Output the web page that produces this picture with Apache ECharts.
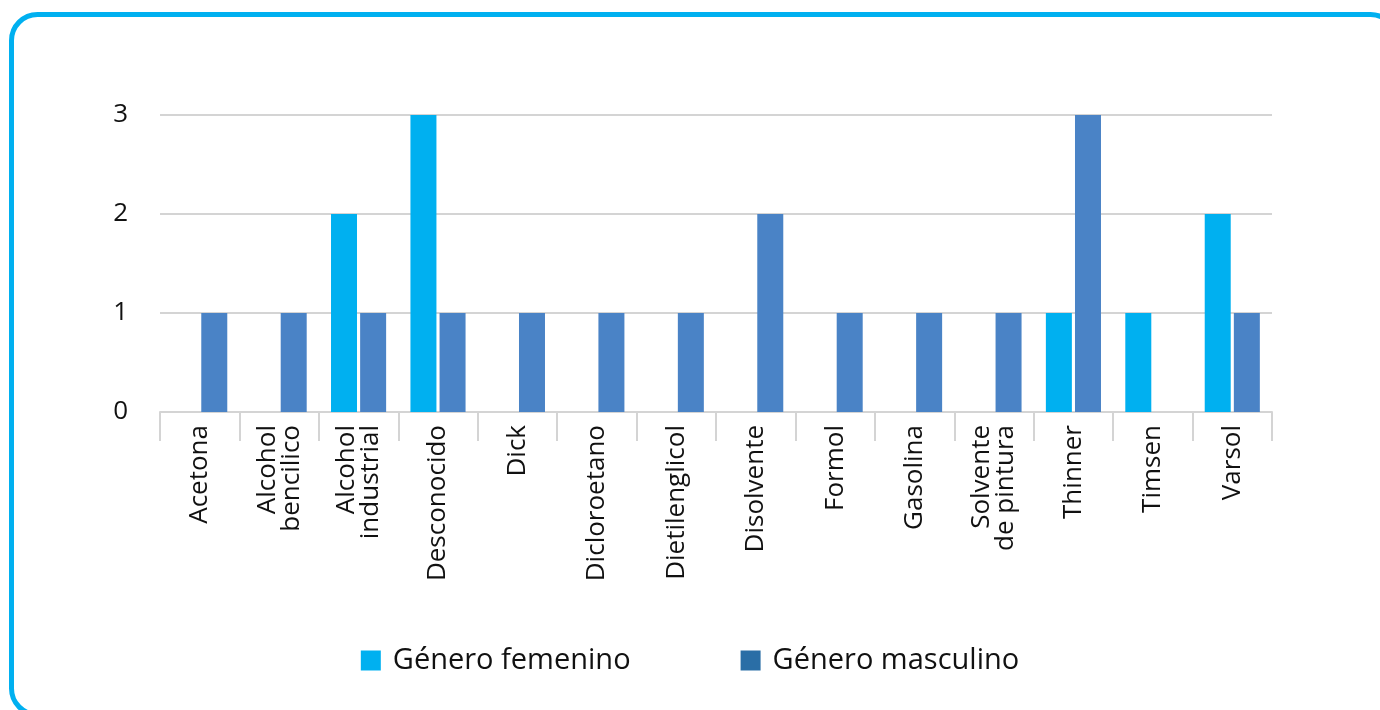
<!DOCTYPE html>
<html>
<head>
<meta charset="utf-8">
<script src="https://cdn.jsdelivr.net/npm/echarts@6/dist/echarts.min.js"></script>
<style>
  html, body { margin: 0; padding: 0; background: #fff; }
  #chart { width: 1380px; height: 710px; }
</style>
</head>
<body>
<div id="chart"></div>
<script>
const categories = [
  'Acetona', 'Alcohol\nbencilico', 'Alcohol\nindustrial', 'Desconocido', 'Dick',
  'Dicloroetano', 'Dietilenglicol', 'Disolvente', 'Formol', 'Gasolina',
  'Solvente\nde pintura', 'Thinner', 'Timsen', 'Varsol'
];
const femenino = [0, 0, 2, 3, 0, 0, 0, 0, 0, 0, 0, 1, 1, 2];
const masculino = [1, 1, 1, 1, 1, 1, 1, 2, 1, 1, 1, 3, 0, 1];
const yTicks = [0, 1, 2, 3];

const FONT = '"Open Sans", "Noto Sans", sans-serif';
const CYAN = '#00B0F0';
const BLUE = '#4A83C6';

const chart = echarts.init(document.getElementById('chart'));
chart.setOption({
  animation: false,
  textStyle: { fontFamily: FONT },
  graphic: [{
    type: 'rect',
    shape: { x: 11.5, y: 14.5, width: 1385, height: 700, r: 26 },
    style: { fill: 'none', stroke: CYAN, lineWidth: 5 },
    z: 100
  }],
  grid: { left: 160, right: 108, top: 115, bottom: 298 },
  legend: {
    bottom: 30,
    left: 'center',
    itemWidth: 20,
    itemHeight: 20,
    itemGap: 110,
    icon: 'rect',
    textStyle: { fontSize: 29, color: '#111', fontFamily: FONT, padding: [0, 0, 0, 7] },
    data: [
      { name: 'Género femenino', itemStyle: { color: CYAN } },
      { name: 'Género masculino', itemStyle: { color: '#2A6EA6' } }
    ]
  },
  xAxis: {
    type: 'category',
    data: categories,
    axisLine: { lineStyle: { color: '#d4d4d4', width: 2 } },
    axisTick: { show: true, length: 29, lineStyle: { color: '#d4d4d4', width: 2 } },
    axisLabel: {
      rotate: 90,
      margin: 13,
      fontSize: 26,
      lineHeight: 24,
      color: '#111',
      fontFamily: FONT,
      interval: 0
    }
  },
  yAxis: {
    type: 'value',
    min: yTicks[0],
    max: yTicks[yTicks.length - 1],
    interval: 1,
    axisLine: { show: false },
    axisTick: { show: false },
    splitLine: { lineStyle: { color: '#d4d4d4', width: 2 } },
    axisLabel: {
      margin: 32,
      fontSize: 26,
      color: '#111',
      fontFamily: FONT
    }
  },
  series: [
    {
      name: 'Género femenino',
      type: 'bar',
      data: femenino,
      barWidth: 26,
      barGap: '12%',
      itemStyle: { color: CYAN }
    },
    {
      name: 'Género masculino',
      type: 'bar',
      data: masculino,
      barWidth: 26,
      barGap: '12%',
      itemStyle: { color: BLUE }
    }
  ]
});
</script>
</body>
</html>
